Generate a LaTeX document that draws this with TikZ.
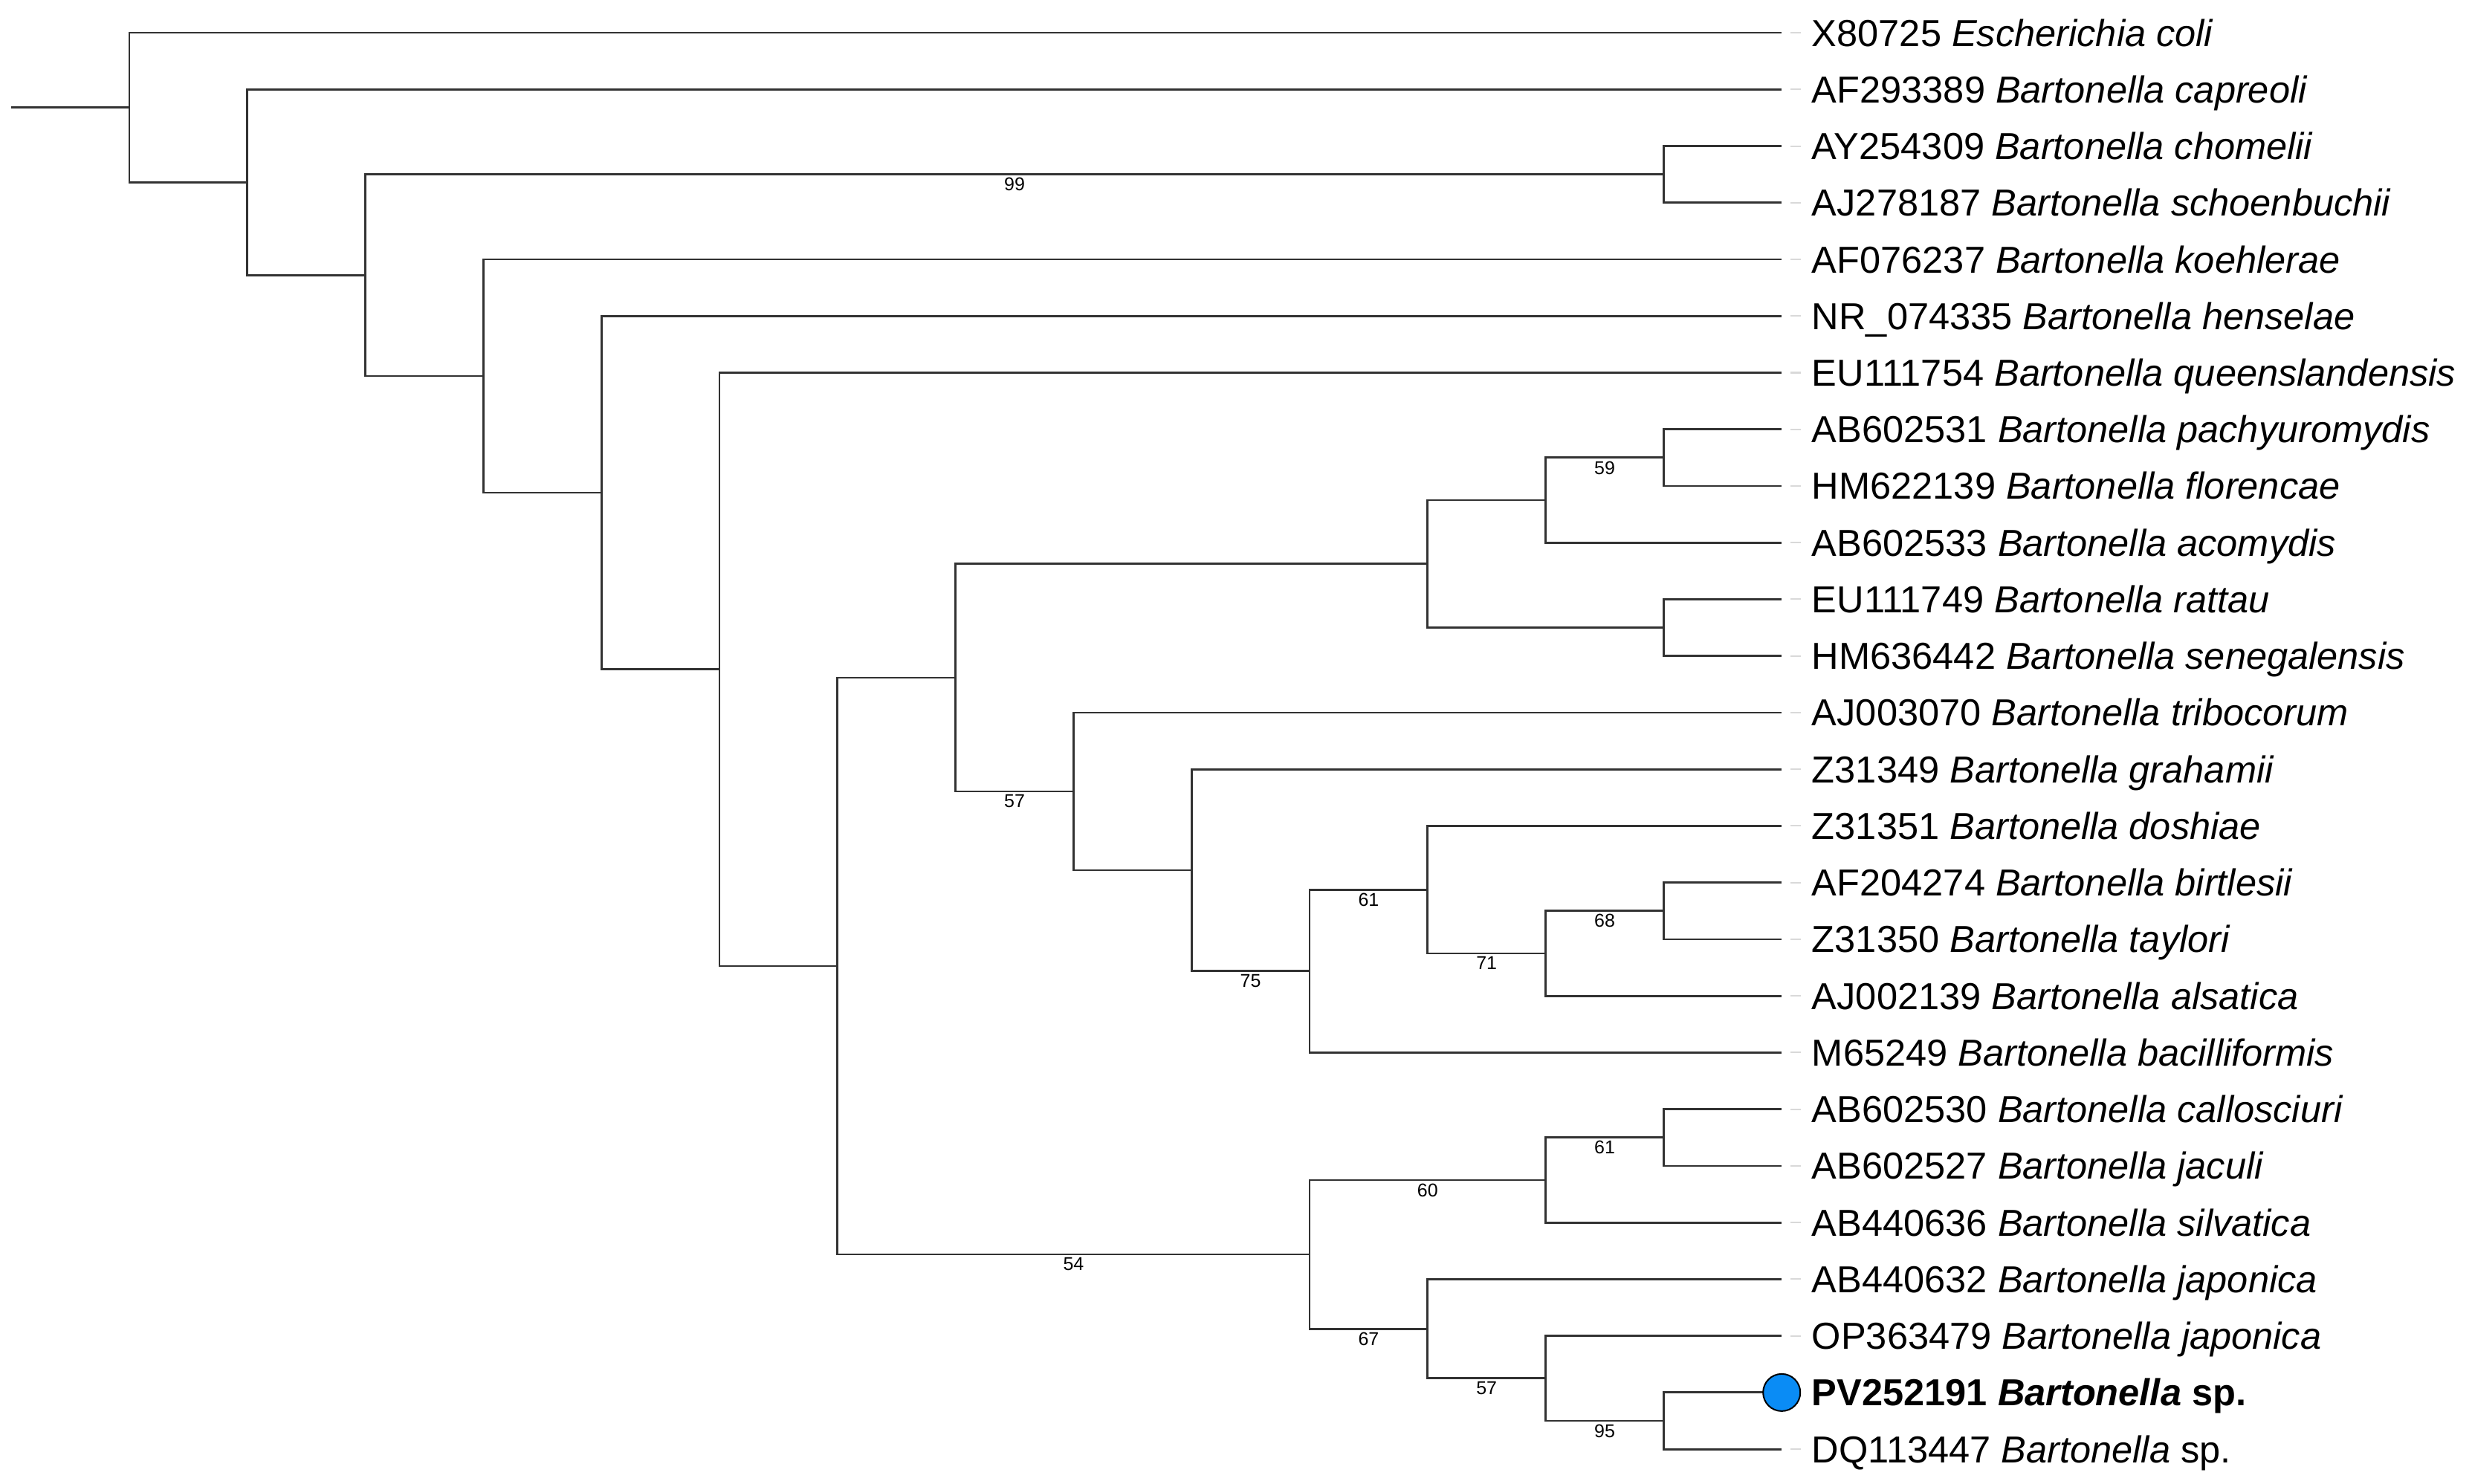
\documentclass[tikz,border=0pt]{standalone}
\usepackage{fontspec}
\setmainfont{Liberation Sans}
\usetikzlibrary{calc}
\definecolor{ptblue}{RGB}{10,140,245}
\definecolor{brcol}{RGB}{50,50,50}
\newcommand{\tbr}[2]{\draw[branch] (#1) |- (#2);}
\newcommand{\tbrl}[3]{\draw[branch] (#1) |- (#2);
  \node[boot] (lab-#2) at ($(#1 |- #2)!0.5!(#2)$) {#3};}
\begin{document}
\begin{tikzpicture}[x=0.01cm,y=-0.762cm,
  branch/.style={draw=brcol,line width=0.028cm},
  guide/.style={draw=black!15,line width=0.02cm},
  boot/.style={anchor=north,inner sep=0pt,yshift=-0.04cm,font=\fontsize{7.1pt}{8pt}\selectfont},
  leaf/.style={anchor=base west,inner sep=0pt,xshift=0.4cm,yshift=-0.18cm,font=\fontsize{14.37pt}{17pt}\selectfont}]
\useasboundingbox (0,0.42257) rectangle (3326,26.6037);
% leaf tips
\foreach \i in {1,...,26} {\coordinate (L\i) at (2397.2,\i);}
% internal nodes
\coordinate (nA) at (174,2.31989);
\coordinate (nB) at (332.8,3.63977);
\coordinate (nC) at (491.6,5.27954);
\coordinate (nCh) at (2238.4,3.5);
\coordinate (nD) at (650.4,7.05908);
\coordinate (nE) at (809.2,9.11816);
\coordinate (nF) at (968,12.23633);
\coordinate (nG) at (1126.8,17.47266);
\coordinate (nH) at (1285.6,12.38281);
\coordinate (nP4) at (1920.8,10.375);
\coordinate (nP2) at (2079.6,9.25);
\coordinate (nP1) at (2238.4,8.5);
\coordinate (nP3) at (2238.4,11.5);
\coordinate (nQ6) at (1444.4,14.390625);
\coordinate (nQ5) at (1603.2,15.78125);
\coordinate (nQ4) at (1762,17.5625);
\coordinate (nQ3) at (1920.8,16.125);
\coordinate (nQ2) at (2079.6,17.25);
\coordinate (nQ1) at (2238.4,16.5);
\coordinate (nR3) at (1762,22.5625);
\coordinate (nR2) at (2079.6,21.25);
\coordinate (nR1) at (2238.4,20.5);
\coordinate (nS3) at (1920.8,23.875);
\coordinate (nS2) at (2079.6,24.75);
\coordinate (nS1) at (2238.4,25.5);
\coordinate (root) at (15,2.31989);
% faint guides
\foreach \i in {1,...,24,26} {\draw[guide] ([xshift=0.12cm]L\i) -- ([xshift=0.26cm]L\i);}
% branches
\draw[branch] (root) -- (nA);
\tbr{nA}{L1} \tbr{nA}{nB}
\tbr{nB}{L2} \tbr{nB}{nC}
\tbrl{nC}{nCh}{99} \tbr{nC}{nD}
\tbr{nCh}{L3} \tbr{nCh}{L4}
\tbr{nD}{L5} \tbr{nD}{nE}
\tbr{nE}{L6} \tbr{nE}{nF}
\tbr{nF}{L7} \tbr{nF}{nG}
\tbr{nG}{nH} \tbrl{nG}{nR3}{54}
\tbr{nH}{nP4} \tbrl{nH}{nQ6}{57}
\tbr{nP4}{nP2} \tbr{nP4}{nP3}
\tbrl{nP2}{nP1}{59} \tbr{nP2}{L10}
\tbr{nP1}{L8} \tbr{nP1}{L9}
\tbr{nP3}{L11} \tbr{nP3}{L12}
\tbr{nQ6}{L13} \tbr{nQ6}{nQ5}
\tbr{nQ5}{L14} \tbrl{nQ5}{nQ4}{75}
\tbrl{nQ4}{nQ3}{61} \tbr{nQ4}{L19}
\tbr{nQ3}{L15} \tbrl{nQ3}{nQ2}{71}
\tbrl{nQ2}{nQ1}{68} \tbr{nQ2}{L18}
\tbr{nQ1}{L16} \tbr{nQ1}{L17}
\tbrl{nR3}{nR2}{60} \tbrl{nR3}{nS3}{67}
\tbrl{nR2}{nR1}{61} \tbr{nR2}{L22}
\tbr{nR1}{L20} \tbr{nR1}{L21}
\tbr{nS3}{L23} \tbrl{nS3}{nS2}{57}
\tbr{nS2}{L24} \tbrl{nS2}{nS1}{95}
\tbr{nS1}{L25} \tbr{nS1}{L26}
% marker
\node[circle,draw=black,fill=ptblue,line width=0.02cm,minimum size=0.5cm,inner sep=0pt] (dot) at (L25) {};
% leaf labels
\node[leaf] (t1) at (L1) {X80725 \textit{Escherichia coli}};
\node[leaf] (t2) at (L2) {AF293389 \textit{Bartonella capreoli}};
\node[leaf] (t3) at (L3) {AY254309 \textit{Bartonella chomelii}};
\node[leaf] (t4) at (L4) {AJ278187 \textit{Bartonella schoenbuchii}};
\node[leaf] (t5) at (L5) {AF076237 \textit{Bartonella koehlerae}};
\node[leaf] (t6) at (L6) {NR\_074335 \textit{Bartonella henselae}};
\node[leaf] (t7) at (L7) {EU111754 \textit{Bartonella queenslandensis}};
\node[leaf] (t8) at (L8) {AB602531 \textit{Bartonella pachyuromydis}};
\node[leaf] (t9) at (L9) {HM622139 \textit{Bartonella florencae}};
\node[leaf] (t10) at (L10) {AB602533 \textit{Bartonella acomydis}};
\node[leaf] (t11) at (L11) {EU111749 \textit{Bartonella rattau}};
\node[leaf] (t12) at (L12) {HM636442 \textit{Bartonella senegalensis}};
\node[leaf] (t13) at (L13) {AJ003070 \textit{Bartonella tribocorum}};
\node[leaf] (t14) at (L14) {Z31349 \textit{Bartonella grahamii}};
\node[leaf] (t15) at (L15) {Z31351 \textit{Bartonella doshiae}};
\node[leaf] (t16) at (L16) {AF204274 \textit{Bartonella birtlesii}};
\node[leaf] (t17) at (L17) {Z31350 \textit{Bartonella taylori}};
\node[leaf] (t18) at (L18) {AJ002139 \textit{Bartonella alsatica}};
\node[leaf] (t19) at (L19) {M65249 \textit{Bartonella bacilliformis}};
\node[leaf] (t20) at (L20) {AB602530 \textit{Bartonella callosciuri}};
\node[leaf] (t21) at (L21) {AB602527 \textit{Bartonella jaculi}};
\node[leaf] (t22) at (L22) {AB440636 \textit{Bartonella silvatica}};
\node[leaf] (t23) at (L23) {AB440632 \textit{Bartonella japonica}};
\node[leaf] (t24) at (L24) {OP363479 \textit{Bartonella japonica}};
\node[leaf] (t25) at (L25) {\bfseries PV252191 \textit{Bartonella} sp.};
\node[leaf] (t26) at (L26) {DQ113447 \textit{Bartonella} sp.};
\end{tikzpicture}
\end{document}
